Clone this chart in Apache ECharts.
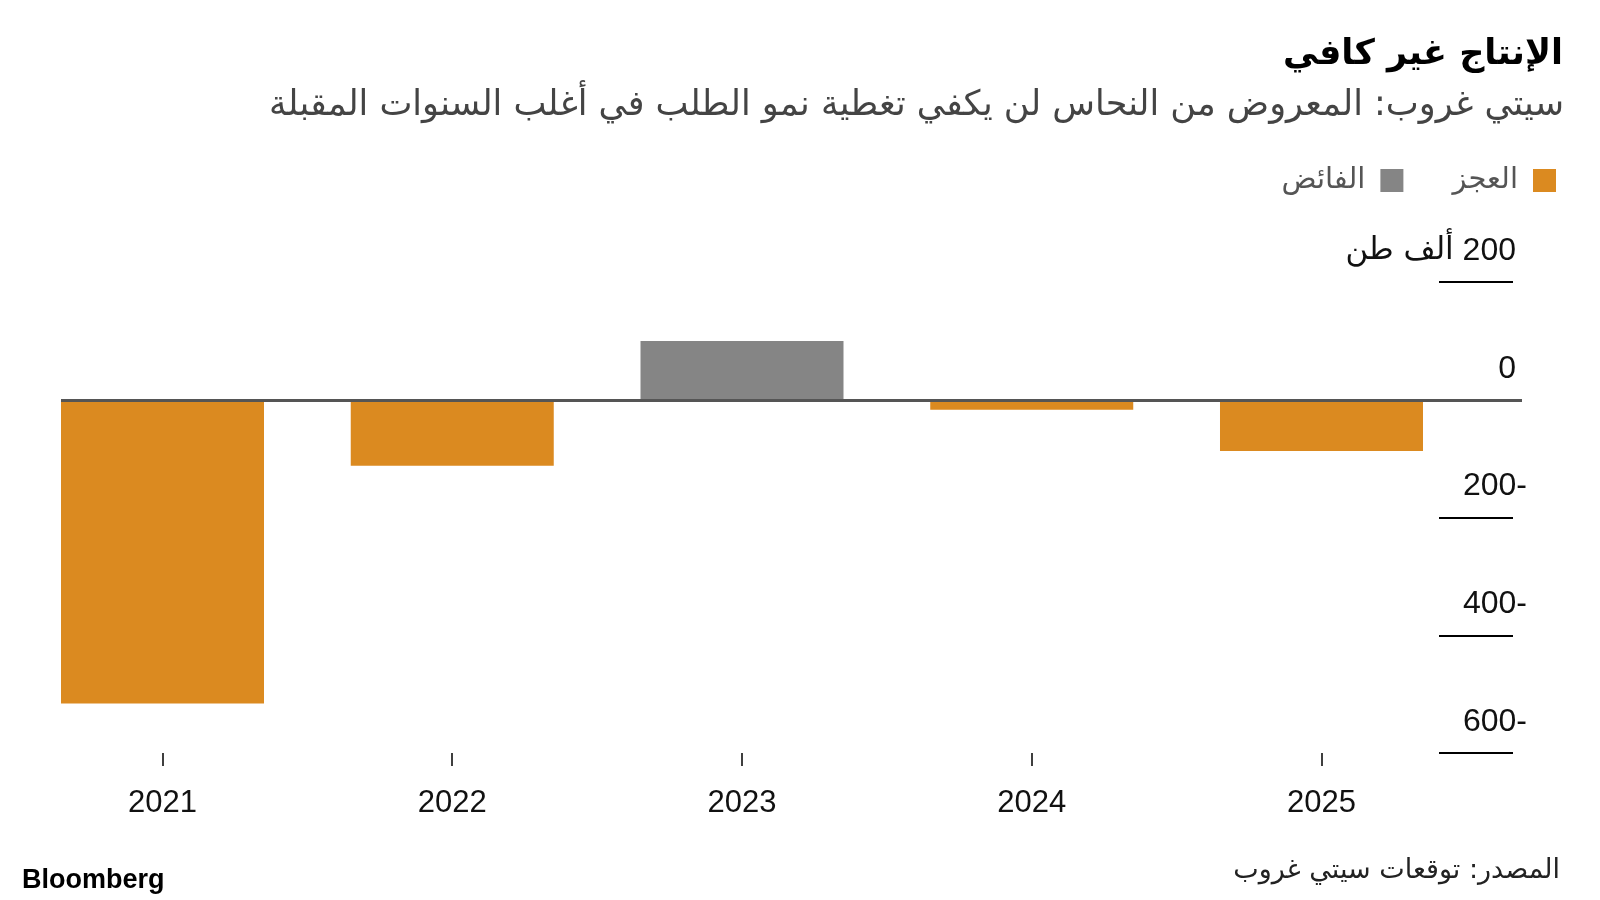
<!DOCTYPE html>
<html>
<head>
<meta charset="utf-8">
<script src="https://cdn.jsdelivr.net/npm/echarts@6/dist/echarts.min.js"></script>
<style>
html,body{margin:0;padding:0;background:#fff;}
#c{width:1600px;height:900px;}
</style>
</head>
<body>
<div id="c"></div>
<script>
// ---- data ----
const years = [2021, 2022, 2023, 2024, 2025];
const deficitName = 'العجز';
const surplusName = 'الفائض';
const deficitValues = [-516, -112, null, -17, -87];
const surplusValues = [null, null, 100, null, null];
const yTicks = [200, 0, -200, -400, -600];
const unitLabel = 'ألف طن';
const titleText = 'الإنتاج غير كافي';
const subtitleText = 'سيتي غروب: المعروض من النحاس لن يكفي تغطية نمو الطلب في أغلب السنوات المقبلة';
const sourceText = 'المصدر: توقعات سيتي غروب';

const arabicFont = "'DejaVu Sans', sans-serif";
const numFont = "'Liberation Sans', Arial, 'DejaVu Sans', sans-serif";

const chart = echarts.init(document.getElementById('c'), null, {renderer: 'canvas'});

const toPairs = (vals) => years.map((y, i) => vals[i] == null ? null : [y, vals[i]]).filter(d => d);

const option = {
  backgroundColor: '#ffffff',
  animation: false,
  title: [
    {text: titleText, right: 32, top: 32,
     textStyle: {fontFamily: arabicFont, fontSize: 35, fontWeight: 'bold', color: '#000'}},
    {text: subtitleText, right: 31, top: 83,
     textStyle: {fontFamily: arabicFont, fontSize: 35, fontWeight: 'normal', color: '#444'}},
    {text: sourceText, right: 35, top: 852,
     textStyle: {fontFamily: arabicFont, fontSize: 27, fontWeight: 'normal', color: '#222'}},
    {text: 'Bloomberg', left: 17, top: 862,
     textStyle: {fontFamily: numFont, fontSize: 27, fontWeight: 'bold', color: '#000'}}
  ],
  legend: {
    data: [surplusName, deficitName],
    right: 39, top: 161,
    align: 'right',
    icon: 'rect',
    itemWidth: 23, itemHeight: 23,
    itemGap: 49,
    textStyle: {fontFamily: arabicFont, fontSize: 29, color: '#555', padding: [0, 10, 0, 0]}
  },
  grid: {left: 61, right: 78, top: 282, bottom: 147, containLabel: false, outerBoundsMode: 'none'},
  xAxis: {
    type: 'value',
    min: 2020.6497, max: 2025.692,
    position: 'bottom',
    axisLine: {show: false, onZero: false},
    splitLine: {show: false},
    axisTick: {show: true, customValues: years, length: 13, lineStyle: {color: '#000', width: 1.5}},
    axisLabel: {show: true, customValues: years, margin: 35, fontFamily: numFont, fontSize: 31, color: '#111',
                formatter: v => String(v)}
  },
  yAxis: {
    type: 'value',
    min: -600, max: 200, interval: 200,
    position: 'right',
    offset: -9,
    axisLine: {show: false},
    splitLine: {show: false},
    axisTick: {show: true, inside: true, length: 74, lineStyle: {color: '#000', width: 2}},
    axisLabel: {
      show: true, inside: false, margin: 14, align: 'right', verticalAlign: 'middle',
      padding: [0, 0, 62, 0],
      fontFamily: numFont, fontSize: 32, color: '#111',
      formatter: function (v) {
        if (v < 0) return '{n|' + Math.abs(v) + '-}';
        if (v === yTicks[0]) return '{a|' + unitLabel + '}{n| ' + v + '}{p| }';
        return '{n|' + v + '}{p| }';
      },
      rich: {
        n: {fontFamily: numFont, fontSize: 32, color: '#111'},
        a: {fontFamily: arabicFont, fontSize: 31, color: '#111'},
        p: {width: 11, fontSize: 32}
      }
    }
  },
  series: [
    {
      name: deficitName, type: 'bar', stack: 'all',
      data: toPairs(deficitValues),
      barWidth: 203,
      itemStyle: {color: '#DB8A20'},
      markLine: {
        silent: true, symbol: ['none', 'none'],
        label: {show: false},
        lineStyle: {color: '#555', width: 3, type: 'solid'},
        emphasis: {disabled: true},
        data: [{yAxis: 0}]
      }
    },
    {
      name: surplusName, type: 'bar', stack: 'all',
      data: toPairs(surplusValues),
      barWidth: 203,
      itemStyle: {color: '#858585'}
    }
  ]
};
chart.setOption(option);
</script>
</body>
</html>
